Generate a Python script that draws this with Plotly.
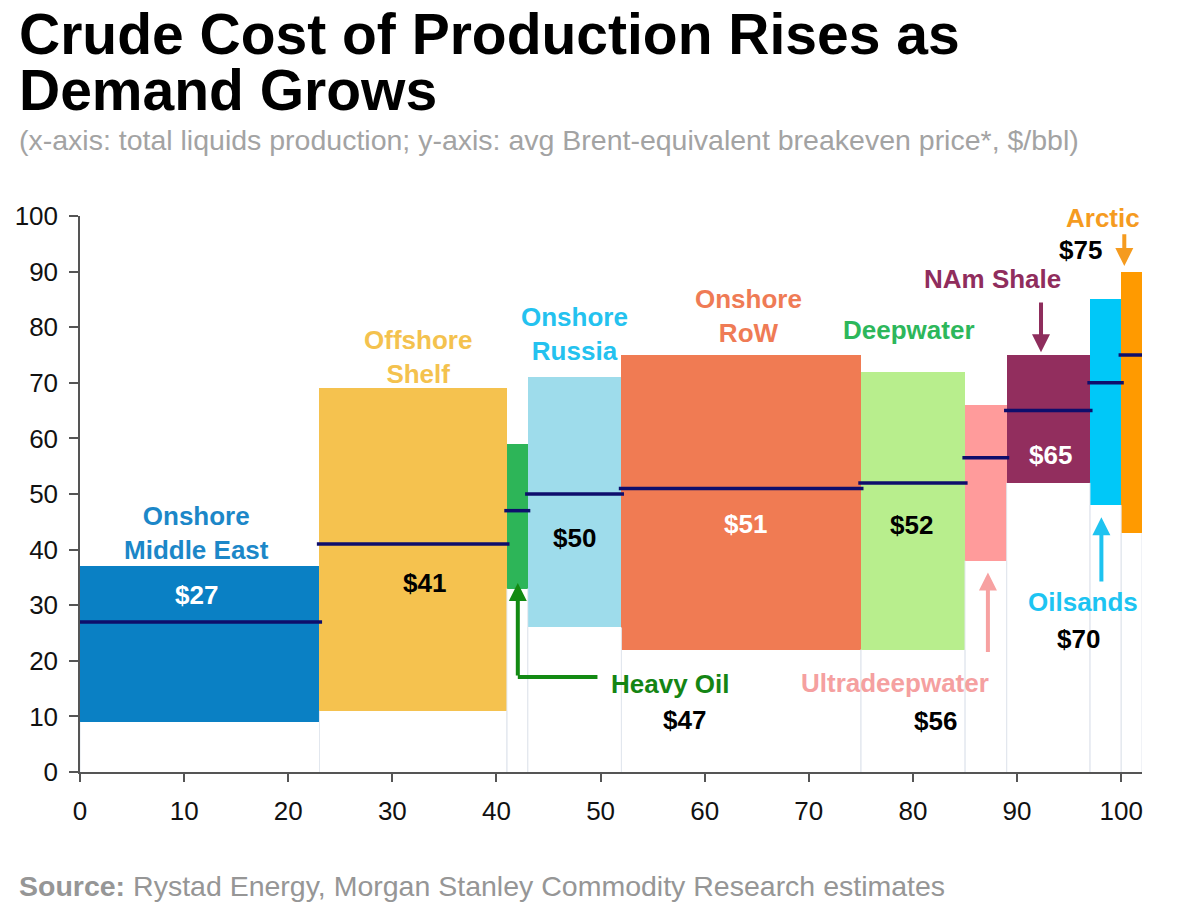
import plotly.graph_objects as go

# supply segments, left to right along the cost curve
segments = ['Onshore Middle East', 'Offshore Shelf', 'Heavy Oil', 'Onshore Russia',
            'Onshore RoW', 'Deepwater', 'Ultradeepwater', 'NAm Shale', 'Oilsands', 'Arctic']
share = [23, 18, 2, 9, 23, 10, 4, 8, 3, 2]          # % of total liquids production
low = [9, 11, 33, 26, 22, 22, 38, 52, 48, 43]        # breakeven range, $/bbl
high = [37, 69, 59, 71, 75, 72, 66, 75, 85, 90]
avg = [27, 41, 47, 50, 51, 52, 56.5, 65, 70, 75]     # avg breakeven, $/bbl
colors = ['#0A80C4', '#F5C24F', '#2DB558', '#9EDCEB', '#F07B53',
          '#B8EE8D', '#FF9B9B', '#922E5E', '#00C8F8', '#FF9A00']

xticks = list(range(0, 101, 10))
yticks = list(range(0, 101, 10))

FONT = 'Liberation Sans, Arial, sans-serif'

left = []
pos = 0
for w in share:
    left.append(pos)
    pos += w
right = [l + w for l, w in zip(left, share)]
centers = [l + w / 2 for l, w in zip(left, share)]

fig = go.Figure()

# faint separators under the boxes
gx, gy = [], []
for l, r, lo in zip(left, right, low):
    for e in (l, r):
        gx += [e, e, None]
        gy += [0, lo, None]
fig.add_trace(go.Scatter(x=gx, y=gy, mode='lines', line=dict(color='#E2E7EE', width=1),
                         hoverinfo='skip', showlegend=False))

fig.add_trace(go.Bar(x=centers, y=[h - lo for h, lo in zip(high, low)], base=low, width=share,
                     marker=dict(color=colors, line=dict(width=0)),
                     hovertext=segments, showlegend=False))

# average breakeven dashes
lx, ly = [], []
for l, r, a in zip(left, right, avg):
    lx += [l - 0.25, r + 0.25, None]
    ly += [a, a, None]
fig.add_trace(go.Scatter(x=lx, y=ly, mode='lines', line=dict(color='#0E0E6C', width=3.5),
                         hoverinfo='skip', showlegend=False))

def label(text, x, y, color, size=26):
    fig.add_annotation(x=x, y=y, xref='x', yref='y', text='<b>' + text + '</b>', showarrow=False,
                       font=dict(family=FONT, size=size, color=color),
                       xanchor='center', yanchor='middle')

label('Onshore<br>Middle East', 11.2, 42.9, '#1C87C8')
label('$27', 11.2, 31.8, 'white')
label('Offshore<br>Shelf', 32.5, 74.6, '#F4C24E')
label('$41', 33.1, 34.0, 'black')
label('Onshore<br>Russia', 47.5, 78.8, '#24C2EF')
label('$50', 47.5, 42.1, 'black')
label('Onshore<br>RoW', 64.2, 82.1, '#EF7B55')
label('$51', 63.9, 44.6, 'white')
label('Deepwater', 79.6, 79.5, '#2DB75B')
label('$52', 79.9, 44.4, 'black')
label('Heavy Oil', 56.7, 15.8, '#148514')
label('$47', 58.1, 9.4, 'black')
label('Ultradeepwater', 78.3, 16.0, '#F5A0A0')
label('$56', 82.2, 9.2, 'black')
label('NAm Shale', 87.6, 88.7, '#902D5D')
label('$65', 93.2, 57.0, 'white')
label('Oilsands', 96.3, 30.6, '#1DC4F2')
label('$70', 95.9, 23.9, 'black')
label('Arctic', 98.3, 99.6, '#F59B1F')
label('$75', 96.1, 93.9, 'black')

def arrow(x, y_tip, y_tail, color):
    fig.add_annotation(x=x, y=y_tip, ax=x, ay=y_tail, xref='x', yref='y', axref='x', ayref='y',
                       text='', showarrow=True, arrowhead=2, arrowsize=0.9, arrowwidth=4,
                       arrowcolor=color, standoff=0, startstandoff=0)

arrow(42.05, 34.0, 17.1, '#138A13')
fig.add_shape(type='line', x0=42.05, x1=49.7, y0=17.1, y1=17.1, xref='x', yref='y',
              line=dict(color='#138A13', width=4))
arrow(87.2, 35.9, 21.3, '#F7A1A1')
arrow(92.3, 75.5, 84.7, '#8E2D5C')
arrow(98.1, 45.8, 34.0, '#1EC3F0')
arrow(100.3, 91.0, 97.0, '#F59B1F')

# titles and source
TX = -0.0595
fig.add_annotation(x=TX, y=1.328, xref='paper', yref='paper', xanchor='left', yanchor='middle',
                   text='<b>Crude Cost of Production Rises as</b>', showarrow=False,
                   font=dict(family=FONT, size=57, color='black'))
fig.add_annotation(x=TX, y=1.226, xref='paper', yref='paper', xanchor='left', yanchor='middle',
                   text='<b>Demand Grows</b>', showarrow=False,
                   font=dict(family=FONT, size=57, color='black'))
fig.add_annotation(x=TX, y=1.137, xref='paper', yref='paper', xanchor='left', yanchor='middle',
                   text='(x-axis: total liquids production; y-axis: avg Brent-equivalent breakeven price*, $/bbl)',
                   showarrow=False, font=dict(family=FONT, size=28.5, color='#A3A3A3'))
fig.add_annotation(x=TX, y=-0.205, xref='paper', yref='paper', xanchor='left', yanchor='middle',
                   text='<b>Source:</b> Rystad Energy, Morgan Stanley Commodity Research estimates',
                   showarrow=False, font=dict(family=FONT, size=28.5, color='#969696'))

fig.update_xaxes(range=[0, 102], tickvals=xticks, ticks='outside', ticklen=8, tickwidth=1.5,
                 tickcolor='#555', showline=True, linecolor='#555', linewidth=1.5,
                 showgrid=False, zeroline=False, ticklabelstandoff=7, automargin=False,
                 tickfont=dict(family=FONT, size=26, color='#111'))
fig.update_yaxes(range=[0, 100], tickvals=yticks, ticks='outside', ticklen=9, tickwidth=1.5,
                 tickcolor='#555', showline=True, linecolor='#555', linewidth=1.5,
                 showgrid=False, zeroline=False, ticklabelstandoff=6, automargin=False,
                 tickfont=dict(family=FONT, size=26, color='#111'))
# the page adds an 8px body margin, so the plot box is pulled up/left by 8px
fig.update_layout(width=1188, height=903, margin=dict(l=72, r=54, t=208, b=139),
                  plot_bgcolor='white', paper_bgcolor='white', bargap=0, showlegend=False)

fig.write_html("out.html")
